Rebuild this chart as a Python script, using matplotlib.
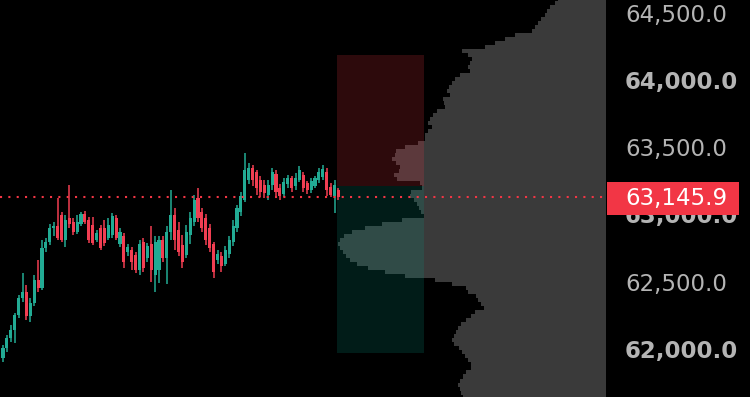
import numpy as np
import matplotlib.pyplot as plt
from matplotlib.patches import Rectangle

# ---- candles (BTC, short timeframe) ----
opens = [61948, 62022, 62097, 62157, 62269, 62395, 62440, 62261, 62358, 62530,
         62470, 62769, 62813, 62918, 62933, 63015, 62828, 62993, 62963, 62888,
         62948, 63022, 62978, 62940, 62828, 62918, 62918, 62843, 62866, 62993,
         62798, 62858, 62739, 62754, 62716, 62604, 62813, 62694, 62798, 62567,
         62604, 62828, 62694, 62888, 63015, 62903, 62791, 62716, 62866, 62963,
         63142, 63037, 62993, 62918, 62798, 62679, 62709, 62649, 62724, 62813,
         62918, 63037, 63127, 63276, 63366, 63336, 63276, 63239, 63164, 63239,
         63321, 63216, 63172, 63246, 63291, 63231, 63276, 63313, 63254, 63201,
         63231, 63276, 63299, 63336, 63224, 63157, 63201]
closes = [62022, 62097, 62157, 62269, 62395, 62440, 62261, 62358, 62530, 62470,
          62769, 62813, 62918, 62933, 62843, 62828, 62978, 62948, 62888, 62963,
          63022, 62963, 62828, 62806, 62881, 62769, 62806, 62940, 63007, 62843,
          62888, 62664, 62776, 62664, 62604, 62798, 62619, 62784, 62604, 62813,
          62828, 62694, 62888, 63015, 62828, 62739, 62664, 62888, 62993, 63127,
          62993, 62918, 62828, 62769, 62590, 62724, 62634, 62754, 62828, 62933,
          63067, 63157, 63351, 63366, 63276, 63216, 63187, 63179, 63239, 63336,
          63187, 63157, 63261, 63291, 63216, 63291, 63351, 63216, 63201, 63269,
          63291, 63336, 63358, 63201, 63164, 63239, 63145.9]
highs = [62045, 62119, 62194, 62284, 62418, 62582, 62492, 62395, 62567, 62679,
         62828, 62843, 62948, 62963, 63142, 63037, 63015, 63239, 62993, 63015,
         63037, 63045, 63000, 63000, 62903, 62940, 62978, 62993, 63030, 63015,
         62918, 62881, 62798, 62776, 62739, 62828, 62843, 62806, 62933, 62858,
         62858, 62858, 62933, 63201, 63067, 62963, 62866, 62940, 63037, 63164,
         63216, 63067, 63022, 62948, 62813, 62754, 62739, 62784, 62858, 62978,
         63090, 63187, 63478, 63403, 63388, 63351, 63306, 63276, 63276, 63366,
         63351, 63246, 63291, 63313, 63306, 63328, 63381, 63336, 63269, 63291,
         63306, 63366, 63388, 63366, 63254, 63276, 63216]
lows = [61918, 61992, 62067, 62060, 62246, 62366, 62231, 62216, 62336, 62440,
        62455, 62739, 62791, 62858, 62828, 62813, 62776, 62918, 62866, 62873,
        62933, 62948, 62806, 62791, 62813, 62754, 62784, 62828, 62843, 62828,
        62776, 62619, 62709, 62604, 62582, 62567, 62590, 62664, 62515, 62440,
        62507, 62664, 62500, 62828, 62754, 62709, 62619, 62694, 62798, 62933,
        62963, 62888, 62791, 62739, 62545, 62649, 62590, 62634, 62694, 62784,
        62888, 63007, 63112, 63246, 63231, 63164, 63149, 63142, 63127, 63201,
        63157, 63127, 63149, 63216, 63187, 63201, 63261, 63187, 63172, 63179,
        63216, 63254, 63276, 63157, 63149, 63030, 63127]

last_price = 63145.9

# ---- volume profile (rows of 30 USD, from 61660 upward) ----
vp_start = 61660
vp_step = 30
vp_volume = [143, 145, 146, 148, 146, 143, 140, 135, 135, 138,
             141, 144, 147, 152, 154, 152, 150, 148, 145, 140,
             135, 131, 122, 125, 128, 130, 138, 140, 154, 171,
             201, 221, 238, 249, 256, 260, 263, 266, 268, 266,
             262, 254, 241, 224, 204, 182, 185, 187, 189, 192,
             196, 195, 184, 186, 209, 212, 207, 206, 210, 214,
             211, 210, 201, 188, 181, 181, 178, 174, 178, 176,
             173, 169, 161, 162, 163, 156, 159, 157, 154, 151,
             146, 136, 138, 136, 134, 138, 144, 121, 111, 101,
             91, 74, 71, 68, 65, 61, 59, 56, 51, 48]

# ---- short position tool ----
pos_start, pos_end = 85.6, 107.9
pos_entry, pos_stop, pos_target = 63231, 64209, 61985

scale_ticks = [62000, 62500, 63000, 63500, 64000, 64500]
bold_ticks = [62000, 63000, 64000]

up_col = '#22ab94'
down_col = '#f23e52'
ylo, yhi = 61657, 64619

fig = plt.figure(figsize=(7.5, 3.97), dpi=100, facecolor='black')
W = 750.0
ax_vp = fig.add_axes([0, 0, 606 / W, 1])
ax = fig.add_axes([0, 0, 606 / W, 1])
ax_sc = fig.add_axes([606 / W, 0, 144 / W, 1])
ax_vp.set_zorder(0)
ax.set_zorder(1)
ax.patch.set_alpha(0)
ax_vp.set_facecolor('black')
ax_sc.set_facecolor('black')
for a in (ax_vp, ax, ax_sc):
    a.set_ylim(ylo, yhi)
    a.axis('off')

# volume profile
vp_prices = vp_start + vp_step * np.arange(len(vp_volume))
ax_vp.barh(vp_prices, vp_volume, height=vp_step, color='#3a3a3a', linewidth=0)
ax_vp.set_xlim(606, 0)

# position box
ax.add_patch(Rectangle((pos_start, pos_entry), pos_end - pos_start, pos_stop - pos_entry,
                       facecolor='#f23645', alpha=0.19, linewidth=0, zorder=1))
ax.add_patch(Rectangle((pos_start, pos_target), pos_end - pos_start, pos_entry - pos_target,
                       facecolor='#089981', alpha=0.19, linewidth=0, zorder=1))

# candles
o = np.array(opens)
c = np.array(closes)
h = np.array(highs)
l = np.array(lows)
x = np.arange(len(o))
cols = np.where(c >= o, up_col, down_col)
ax.vlines(x, l, h, colors=cols, linewidth=1.1, zorder=3)
ax.bar(x, np.maximum(np.abs(c - o), 10), bottom=np.minimum(o, c), width=0.8,
       color=cols, linewidth=0, zorder=4)
ax.set_xlim(-0.77, 154.6)

# last price line
ax.axhline(last_price, color='#f23645', linewidth=1.5, linestyle=(0, (1, 3)), zorder=5)

# price scale
for t in scale_ticks:
    ax_sc.text(19 / 144, t, f'{t:,.1f}', color='#b4b4b4', fontsize=16.5,
               fontweight='bold' if t in bold_ticks else 'normal',
               va='center', ha='left', transform=ax_sc.get_yaxis_transform(), zorder=2)
lab_h = 33 * (yhi - ylo) / 397
ax_sc.add_patch(Rectangle((1 / 144, last_price - lab_h / 2 - 8), 132 / 144, lab_h,
                          facecolor='#f23645', linewidth=0, zorder=3,
                          transform=ax_sc.get_yaxis_transform()))
ax_sc.text(19 / 144, last_price - 8, f'{last_price:,.1f}', color='white', fontsize=16.5,
           va='center', ha='left', transform=ax_sc.get_yaxis_transform(), zorder=4)
ax_sc.set_xlim(0, 1)

fig.savefig('out.png', dpi=100, facecolor='black')
